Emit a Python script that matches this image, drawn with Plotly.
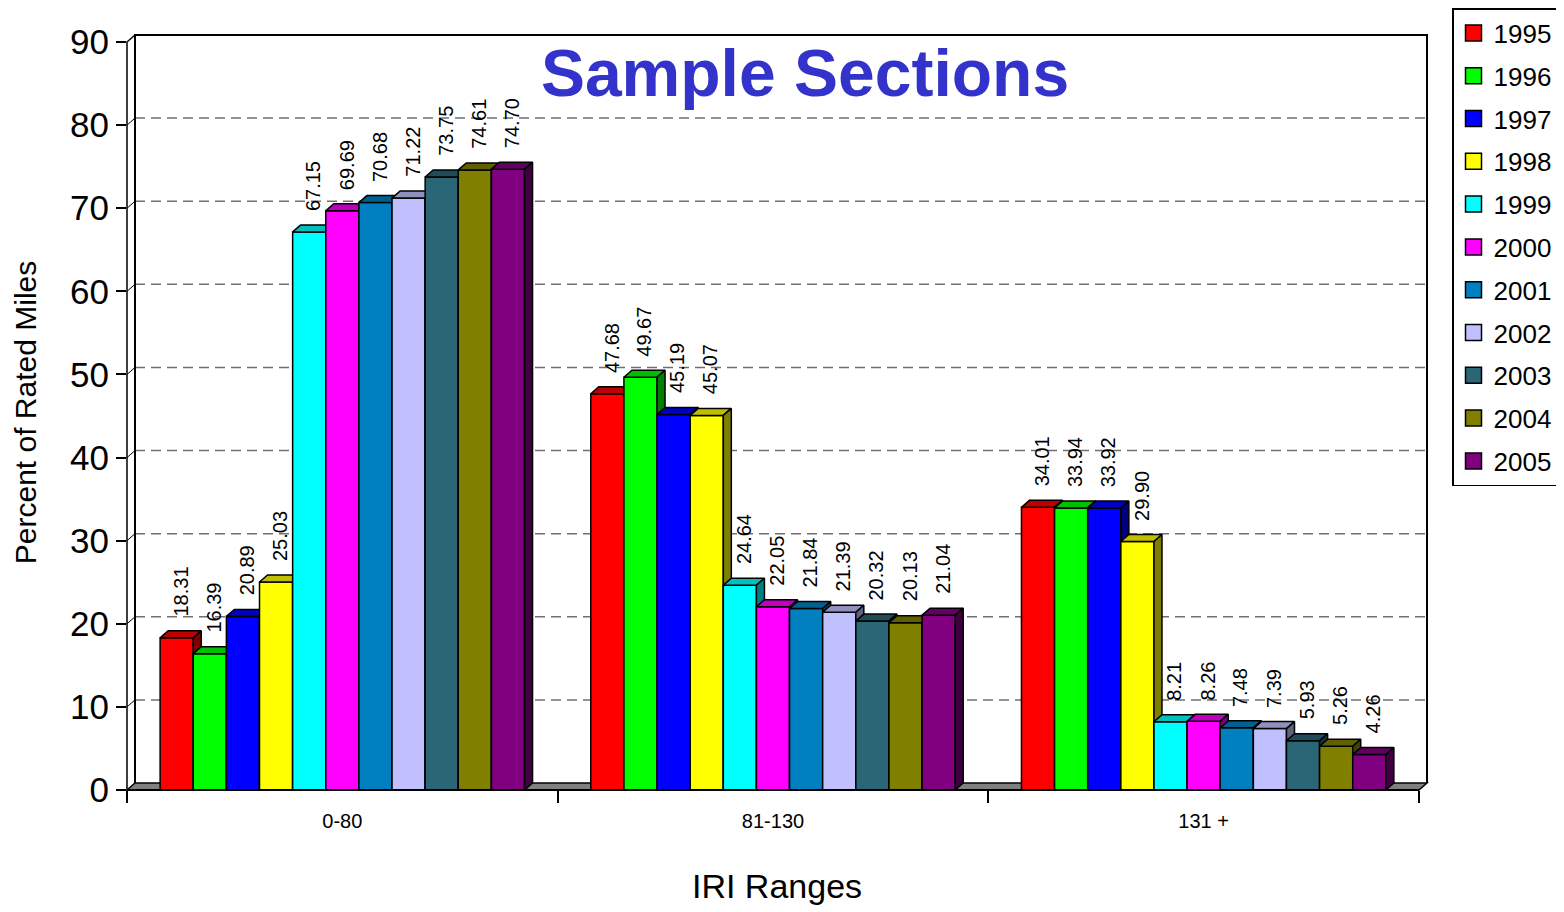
import plotly.graph_objects as go

# ---------------- data ----------------
categories = ["0-80", "81-130", "131 +"]
years = ["1995", "1996", "1997", "1998", "1999", "2000",
         "2001", "2002", "2003", "2004", "2005"]
v1995 = [18.31, 47.68, 34.01]
v1996 = [16.39, 49.67, 33.94]
v1997 = [20.89, 45.19, 33.92]
v1998 = [25.03, 45.07, 29.90]
v1999 = [67.15, 24.64, 8.21]
v2000 = [69.69, 22.05, 8.26]
v2001 = [70.68, 21.84, 7.48]
v2002 = [71.22, 21.39, 7.39]
v2003 = [73.75, 20.32, 5.93]
v2004 = [74.61, 20.13, 5.26]
v2005 = [74.70, 21.04, 4.26]
series_values = [v1995, v1996, v1997, v1998, v1999, v2000,
                 v2001, v2002, v2003, v2004, v2005]
colors = ["#FF0000", "#00FF00", "#0000FF", "#FFFF00", "#00FFFF", "#FF00FF",
          "#0080C0", "#C0C0FF", "#2B6677", "#808000", "#800080"]
y_ticks = [0, 10, 20, 30, 40, 50, 60, 70, 80, 90]

# ---------------- geometry ----------------
FONT = "Arial, Liberation Sans, sans-serif"
PAGE_OFF = 8                       # default body margin of the html page
W, H = 1564 - PAGE_OFF, 912 - PAGE_OFF
ML, MR, MT, MB = 127 - PAGE_OFF, 137, 35 - PAGE_OFF, 122
PW, PH = W - ML - MR, H - MT - MB
DEPTH_X_PX, DEPTH_Y_PX = 8, 7
YMAX = 90
X0 = -0.5
XSPAN = len(categories) / (1 - DEPTH_X_PX / PW)
X1 = X0 + XSPAN
DX = XSPAN * DEPTH_X_PX / PW
YSPAN = YMAX / (1 - DEPTH_Y_PX / PH)
Y1 = YSPAN
DY = YSPAN * DEPTH_Y_PX / PH
XEND = X0 + len(categories)
n = len(years)
BW = 1.0 / (n + 2)


def fx(v):
    return (v - X0) / (X1 - X0)


def fy(v):
    return v / Y1


def shade(hexcol, f):
    h = hexcol.lstrip("#")
    r, g, b = (int(h[i:i + 2], 16) for i in (0, 2, 4))
    return "rgb(%d,%d,%d)" % (r * f, g * f, b * f)


fig = go.Figure()

# bars as 3-D prisms (front, top, side), drawn left to right
for s, (yr, vals, col) in enumerate(zip(years, series_values, colors)):
    fxs, fys, txs, tys, sxs, sys_ = [], [], [], [], [], []
    for g, v in enumerate(vals):
        c = g + (s - (n - 1) / 2) * BW
        l, r = c - BW / 2, c + BW / 2
        fxs += [l, r, r, l, l, None]
        fys += [0, 0, v, v, 0, None]
        txs += [l, r, r + DX, l + DX, l, None]
        tys += [v, v, v + DY, v + DY, v, None]
        sxs += [r, r + DX, r + DX, r, r, None]
        sys_ += [0, DY, v + DY, v, 0, None]
    for xs, ys, fc in ((fxs, fys, col), (txs, tys, shade(col, 0.75)),
                       (sxs, sys_, shade(col, 0.5))):
        fig.add_trace(go.Scatter(
            x=xs, y=ys, mode="lines", fill="toself", fillcolor=fc,
            line=dict(color="black", width=1.5), hoverinfo="skip",
            showlegend=False))

# legend entries
for yr, col in zip(years, colors):
    fig.add_trace(go.Scatter(
        x=[None], y=[None], mode="markers", name=yr, legendgroup=yr,
        marker=dict(symbol="square", size=16, color=col,
                    line=dict(color="black", width=1.5))))

# value labels
annotations = []
for s, vals in enumerate(series_values):
    for g, v in enumerate(vals):
        c = g + (s - (n - 1) / 2) * BW
        annotations.append(dict(
            x=c, y=v, xref="x", yref="y", text="%.2f" % v, showarrow=False,
            textangle=-90, xanchor="center", yanchor="bottom",
            yshift=19, xshift=4, font=dict(family=FONT, size=20, color="black")))

# walls, floor, gridlines
shapes = []
shapes.append(dict(type="path", xref="x domain", yref="y domain", layer="below",
                   path="M %f,%f L %f,%f L %f,%f L %f,%f Z" % (
                       fx(X0), fy(0), fx(XEND), fy(0),
                       fx(XEND + DX), fy(DY), fx(X0 + DX), fy(DY)),
                   fillcolor="#808080", line=dict(color="black", width=1.5)))
for v in y_ticks[1:-1]:
    shapes.append(dict(type="line", xref="x domain", yref="y domain", layer="below",
                       x0=fx(X0 + DX), x1=fx(XEND + DX), y0=fy(v + DY), y1=fy(v + DY),
                       line=dict(color="#707070", width=1.5, dash="10px,6px")))
    shapes.append(dict(type="line", xref="x domain", yref="y domain", layer="below",
                       x0=fx(X0), x1=fx(X0 + DX), y0=fy(v), y1=fy(v + DY),
                       line=dict(color="black", width=1)))
# back wall frame
shapes.append(dict(type="path", xref="x domain", yref="y domain", layer="below",
                   path="M %f,%f L %f,%f L %f,%f L %f,%f" % (
                       fx(X0 + DX), fy(DY), fx(X0 + DX), fy(YMAX + DY),
                       fx(XEND + DX), fy(YMAX + DY), fx(XEND + DX), fy(DY)),
                   line=dict(color="black", width=2)))
# front axes
shapes.append(dict(type="path", xref="x domain", yref="y domain", layer="above",
                   path="M %f,%f L %f,%f L %f,%f" % (
                       fx(X0 + DX), fy(YMAX + DY), fx(X0), fy(YMAX),
                       fx(X0), fy(0)),
                   line=dict(color="black", width=1.5)))
shapes.append(dict(type="line", xref="x domain", yref="y domain", layer="above",
                   x0=fx(X0), x1=fx(XEND), y0=fy(0), y1=fy(0),
                   line=dict(color="black", width=2)))

fig.update_layout(
    width=W, height=H, autosize=False,
    margin=dict(l=ML, r=MR, t=MT, b=MB, autoexpand=False),
    paper_bgcolor="white", plot_bgcolor="white",
    font=dict(family=FONT, color="black"),
    title=dict(text="<b>Sample Sections</b>", x=(805 - PAGE_OFF) / W,
               y=1 - (73 - PAGE_OFF) / H,
               xanchor="center", yanchor="middle", xref="container", yref="container",
               font=dict(family=FONT, size=66, color="#3333CC")),
    xaxis=dict(range=[X0, X1], showgrid=False, zeroline=False, showline=False,
               tickmode="array", tickvals=list(range(len(categories))),
               ticktext=categories, ticks="outside", ticklen=13,
               tickcolor="rgba(0,0,0,0)", tickfont=dict(family=FONT, size=20),
               minor=dict(tickmode="array",
                          tickvals=[X0 + i for i in range(len(categories) + 1)],
                          ticks="outside", ticklen=12, tickwidth=1.5,
                          tickcolor="black", showgrid=False),
               title=dict(text="IRI Ranges", font=dict(family=FONT, size=34),
                          standoff=43),
               fixedrange=True),
    yaxis=dict(range=[0, Y1], showgrid=False, zeroline=False, showline=False,
               tickmode="array", tickvals=y_ticks, ticks="outside", ticklen=10,
               tickwidth=1.5, tickcolor="black",
               tickfont=dict(family=FONT, size=35),
               title=dict(text="Percent of Rated Miles",
                          font=dict(family=FONT, size=30), standoff=24),
               fixedrange=True),
    legend=dict(x=(1452 - 127) / PW, xref="paper", y=(790 - 486) / PH,
                yref="paper", xanchor="left", yanchor="bottom", bgcolor="white",
                bordercolor="black", borderwidth=1.5,
                font=dict(family=FONT, size=26), tracegroupgap=6),
    shapes=shapes,
    annotations=annotations,
)

fig.write_html("out.html")
